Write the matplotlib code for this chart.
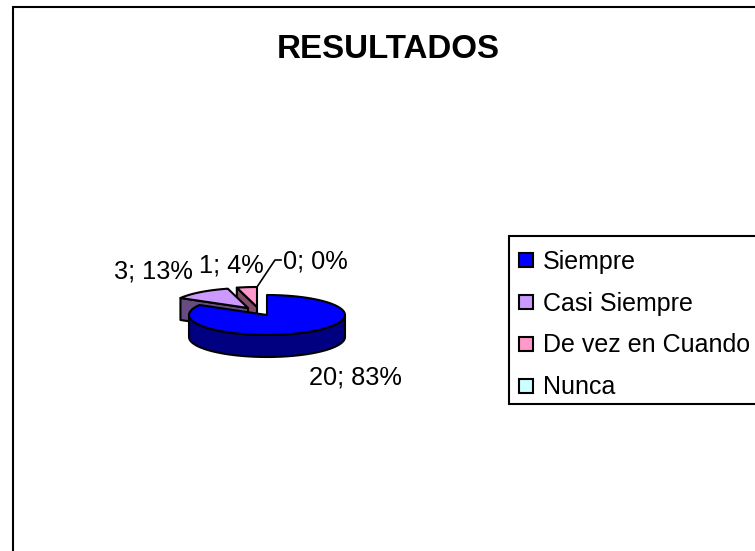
import numpy as np
import matplotlib
matplotlib.use('Agg')
import matplotlib.pyplot as plt
from matplotlib.patches import Polygon, Rectangle

plt.rcParams['font.family'] = ['Liberation Sans', 'DejaVu Sans']

categories = ['Siempre', 'Casi Siempre', 'De vez en Cuando', 'Nunca']
values = [20, 3, 1, 0]
percents = ['83%', '13%', '4%', '0%']
colors = ['#0000FF', '#CC99FF', '#FF99CC', '#CCFFFF']
dark_colors = ['#000080', '#664C80', '#804C66', '#668080']

# pie geometry in pixels (figure is drawn 1:1 in pixel coords)
cx, cy = 267, 315
rx, ry = 78, 20
depth = 22
explode = {0: (0, 0), 1: (-19, -7), 2: (-10, -8), 3: (0, 0)}
label_pos = [(355, 378), (153, 271), (231, 265), (315, 262)]

fig = plt.figure(figsize=(7.55, 5.51), dpi=100)
ax = fig.add_axes([0, 0, 1, 1])
ax.set_xlim(0, 755)
ax.set_ylim(551, 0)
ax.axis('off')


def rim(x0, y0, t1, t2):
    t = np.radians(np.linspace(t1, t2, 80))
    return np.column_stack([x0 + rx * np.sin(t), y0 - ry * np.cos(t)])


# outer frame and title
ax.add_patch(Rectangle((13, 7), 800, 600, fc='white', ec='black', lw=1.5))
ax.text(388.5, 50, 'RESULTADOS', fontsize=23.9, fontweight='bold', ha='center', va='center')

# angles come from the values, clockwise from 12 o'clock
total = sum(values)
edges = np.cumsum([0] + values) / total * 360

# back to front: Nunca (empty), pink, purple, blue
for i in [3, 2, 1, 0]:
    if values[i] == 0:
        continue
    t1, t2 = edges[i], edges[i + 1]
    x0, y0 = cx + explode[i][0], cy + explode[i][1]
    top = rim(x0, y0, t1, t2)
    if i == 0:
        # cut walls hidden, outer wall seen along the front
        front = rim(x0, y0, 90, 270)
        wall = np.vstack([front, (front + [0, depth])[::-1]])
        ax.add_patch(Polygon(wall, fc=dark_colors[i], ec='black', lw=1.5, joinstyle='round'))
    else:
        p = top[0]
        wall = [(x0, y0), p, p + [0, depth], (x0, y0 + depth)]
        ax.add_patch(Polygon(wall, fc=dark_colors[i], ec='black', lw=1.5, joinstyle='round'))
    ax.add_patch(Polygon(np.vstack([[(x0, y0)], top]), fc=colors[i], ec='black', lw=1.5,
                         joinstyle='round'))

# data labels
for i in range(len(values)):
    ax.text(label_pos[i][0], label_pos[i][1], str(values[i]) + '; ' + percents[i],
            fontsize=18.3, ha='center', va='center')

# leader line of the zero slice
leader_x = [257, 275, 281]
leader_y = [287, 260, 260]
ax.plot(leader_x, leader_y, color='black', lw=1.2)

# legend
ax.add_patch(Rectangle((509, 236), 400, 168, fc='white', ec='black', lw=1.5))
legend_y = [260, 302, 344, 386]
for i in range(len(categories)):
    ax.add_patch(Rectangle((519, legend_y[i] - 7), 14, 14, fc=colors[i], ec='black', lw=1.5))
    ax.text(543, legend_y[i] + 1.5, categories[i], fontsize=18, ha='left', va='center')

fig.savefig('out.png', dpi=100)
